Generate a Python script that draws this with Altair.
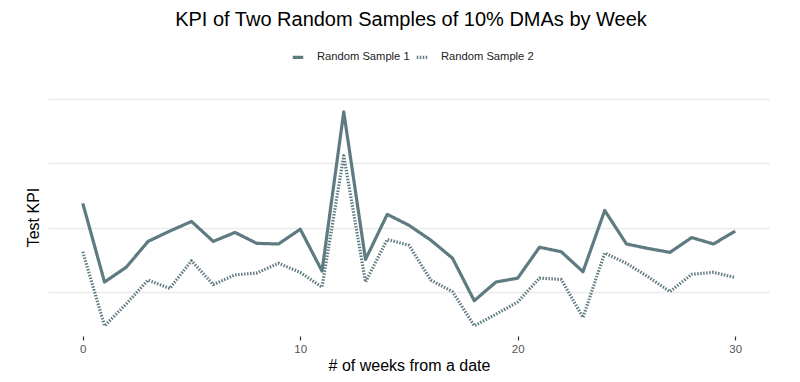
import altair as alt
import pandas as pd

weeks = list(range(31))
sample1 = [2.38, 1.16, 1.39, 1.79, 1.95, 2.10, 1.79, 1.93, 1.76, 1.75, 1.98,
           1.33, 3.80, 1.51, 2.21, 2.04, 1.81, 1.53, 0.87, 1.16, 1.22, 1.70,
           1.63, 1.32, 2.27, 1.75, 1.68, 1.62, 1.85, 1.75, 1.95]
sample2 = [1.63, 0.48, 0.82, 1.19, 1.06, 1.49, 1.12, 1.27, 1.30, 1.45, 1.31,
           1.08, 3.12, 1.16, 1.82, 1.73, 1.19, 1.01, 0.48, 0.66, 0.85, 1.22,
           1.20, 0.61, 1.61, 1.45, 1.24, 1.01, 1.28, 1.31, 1.23]
series_names = ["Random Sample 1", "Random Sample 2"]
x_ticks = [0, 10, 20, 30]
y_grid = [1, 2, 3, 4]

df = pd.concat([
    pd.DataFrame({"week": weeks, "kpi": sample1, "series": series_names[0]}),
    pd.DataFrame({"week": weeks, "kpi": sample2, "series": series_names[1]}),
])

color = "#5e7b82"
font = "Liberation Sans"

chart = alt.Chart(df).mark_line(strokeWidth=3.2, color=color, strokeCap="butt", strokeJoin="round").encode(
    x=alt.X("week:Q",
            scale=alt.Scale(domain=[-1.6, 31.6], nice=False, zero=False),
            axis=alt.Axis(values=x_ticks, title="# of weeks from a date", grid=False, domain=False,
                          ticks=True, tickSize=4, tickColor="#333333", tickWidth=1.2,
                          labelColor="#555555", labelFontSize=11.5, labelPadding=3,
                          titleFontSize=16, titleFontWeight="normal", titleColor="#000000",
                          titlePadding=3, labelFont=font, titleFont=font)),
    y=alt.Y("kpi:Q",
            scale=alt.Scale(domain=[0.322, 4.016], nice=False, zero=False),
            axis=alt.Axis(values=y_grid, title="Test KPI", labels=False, ticks=False, domain=False,
                          grid=True, gridColor="#ebebeb", gridWidth=1.3,
                          titleFontSize=16, titleFontWeight="normal", titleColor="#000000",
                          titleFont=font, titlePadding=7)),
    strokeDash=alt.StrokeDash("series:N",
                              scale=alt.Scale(domain=series_names, range=[[1, 0], [1.5, 1.5]]),
                              legend=alt.Legend(title=None, orient="none", direction="horizontal",
                                                legendX=243, legendY=-48,
                                                symbolType="stroke", symbolStrokeColor=color,
                                                symbolStrokeWidth=3.2, symbolSize=110,
                                                labelFont=font, labelFontSize=11.2, labelColor="#222222",
                                                columnPadding=0, labelOffset=12)),
).properties(
    width=722,
    height=238,
    title=alt.TitleParams("KPI of Two Random Samples of 10% DMAs by Week", font=font, fontSize=20,
                          fontWeight="normal", color="#000000", anchor="middle", dx=2, offset=20),
    padding={"left": 40, "top": 90, "right": 20, "bottom": 38},
    autosize=alt.AutoSizeParams(type="none"),
).configure_view(stroke=None)

chart.save("out.html", embed_options={"renderer": "svg", "actions": False})
